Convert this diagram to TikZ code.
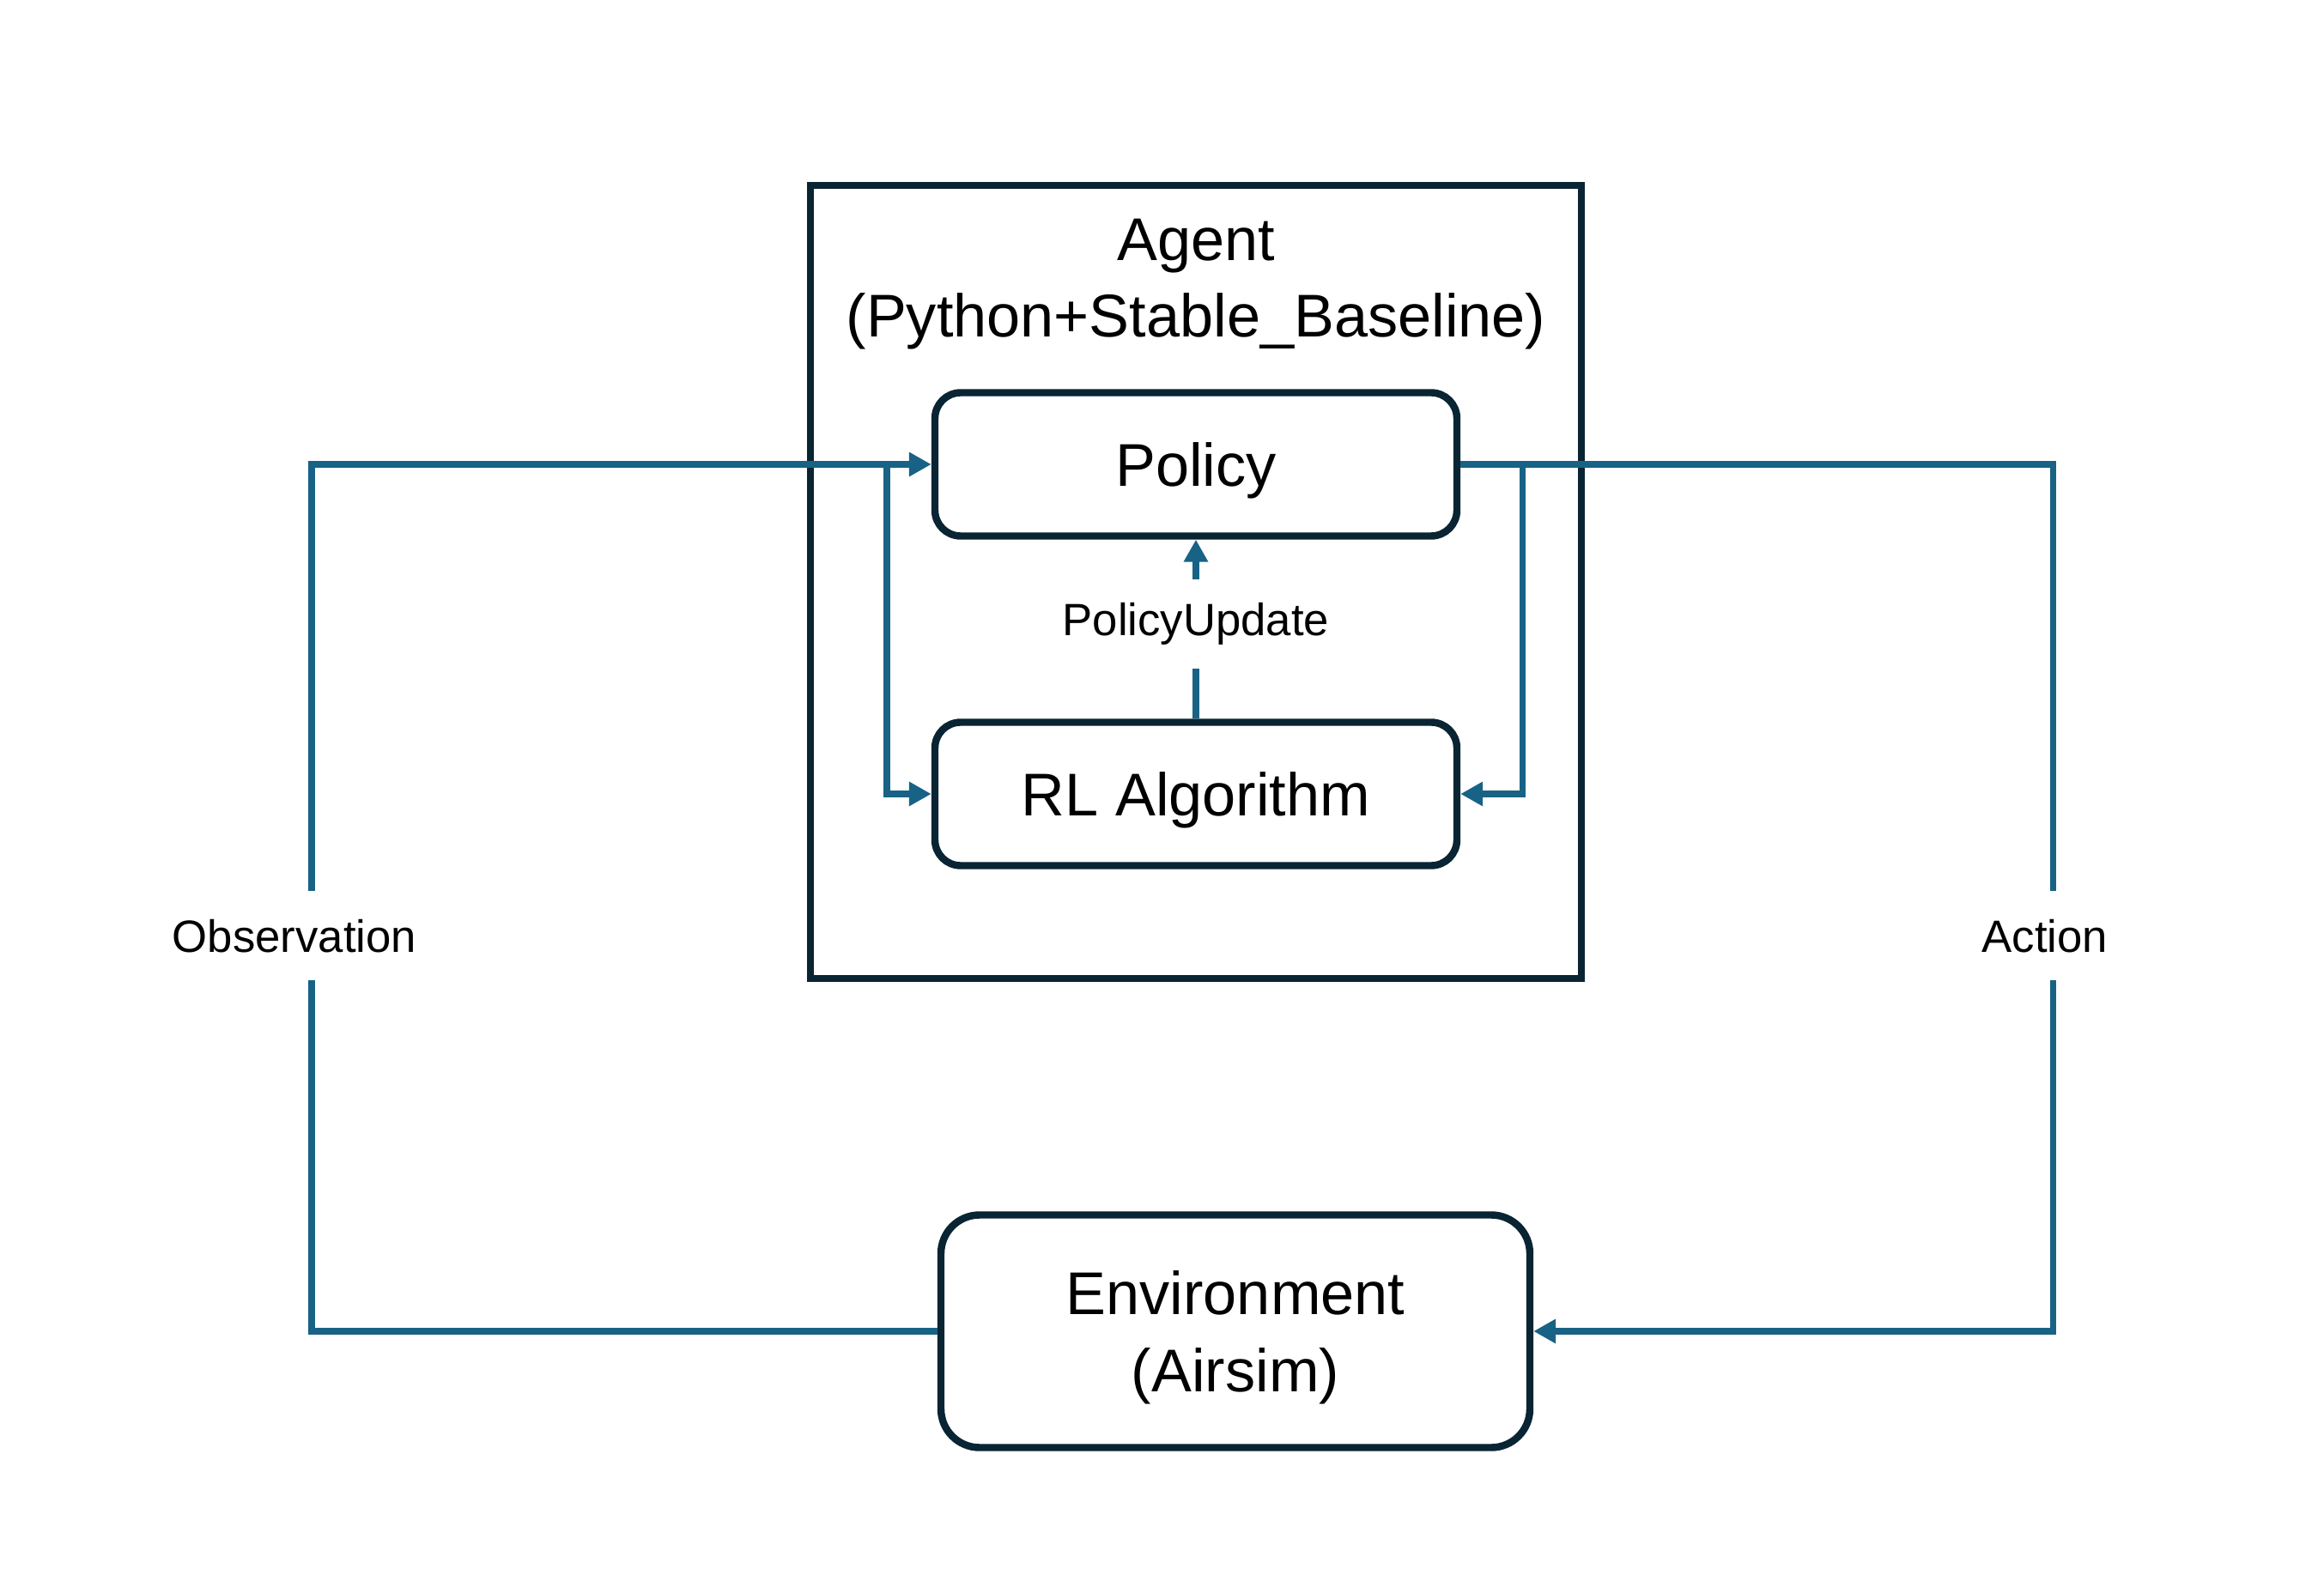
\documentclass[tikz,border=0pt]{standalone}
\usepackage{fontspec}
\setmainfont{Liberation Sans}
\usepackage{tikz}
\usetikzlibrary{arrows.meta,positioning,calc}
\definecolor{flowblue}{RGB}{24,98,133}
\definecolor{boxdark}{RGB}{9,36,51}

\begin{document}
\begin{tikzpicture}[>={Triangle[length=0.26cm,width=0.27cm]},
  big/.style={font=\fontsize{20}{25.5}\selectfont,text depth=0pt},
  b/.style={big,draw=boxdark,line width=2.4pt,rounded corners=0.3cm,align=center,
    minimum width=6.08cm,minimum height=1.67cm},
  flow/.style={->,draw=flowblue,line width=2pt},
  lbl/.style={fill=white,font=\fontsize{15}{18}\selectfont,inner xsep=2pt,minimum height=1.04cm}]
\useasboundingbox (0,0) rectangle (27.07,-18.28);
% agent frame and its content
\node[draw=boxdark,line width=2.4pt,minimum width=8.98cm,minimum height=9.24cm] (agent) at (13.93,-6.78) {};
\node[big,align=center] (title) at (13.93,-3.24) {Agent\\(Python+Stable\_Baseline)};
\node[b] (policy) at (13.93,-5.41) {Policy};
\node[b] (rlalg) at (13.93,-9.25) {RL Algorithm};
\node[b,rounded corners=0.45cm,minimum width=6.86cm,minimum height=2.71cm] (env) at (14.39,-15.51) {Environment\\(Airsim)};
% turning points of the loop
\coordinate (obsx) at (3.63,0);
\coordinate (actx) at (23.91,0);
\coordinate (brl) at (10.33,0);
\coordinate (brr) at (17.73,0);
\draw[flow] (env.west) -- (env.west -| obsx) -- node[lbl,pos=0.456,xshift=-0.2cm] {Observation} (policy.west -| obsx) -- (policy.west);
\draw[flow] (policy.west -| brl) |- (rlalg.west);
\draw[flow] (policy.east) -- (policy.east -| actx) -- node[lbl,pos=0.544,xshift=-0.09cm] {Action} (env.east -| actx) -- (env.east);
\draw[flow] (policy.east -| brr) |- (rlalg.east);
\draw[flow] (rlalg.north) -- node[lbl,pos=0.53] {PolicyUpdate} (policy.south);
\end{tikzpicture}
\end{document}
